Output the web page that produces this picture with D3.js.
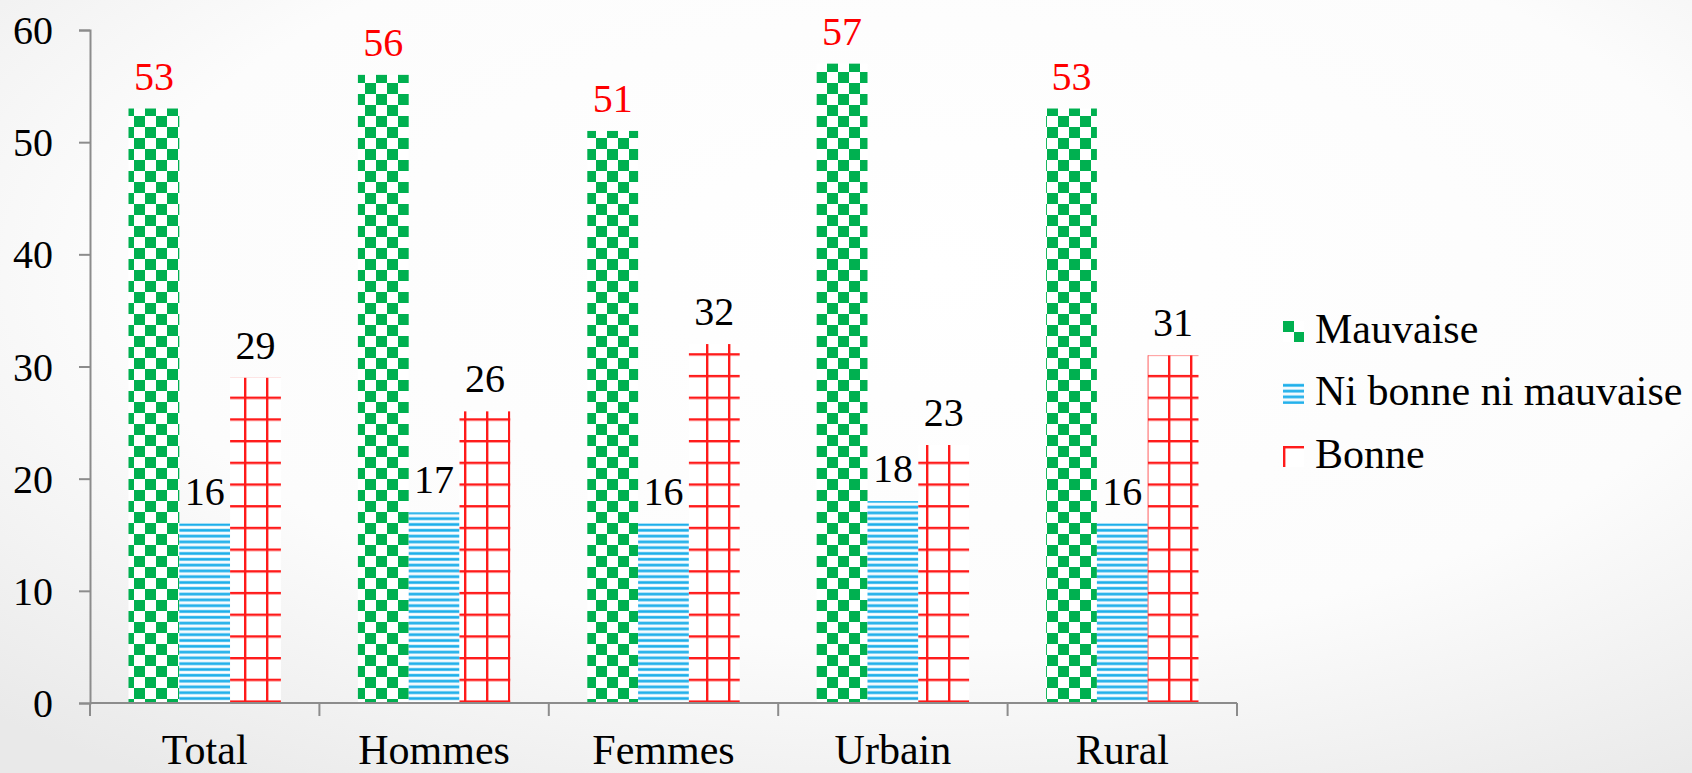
<!DOCTYPE html>
<html><head><meta charset="utf-8">
<script src="https://cdn.jsdelivr.net/npm/d3@7/dist/d3.min.js"></script>
<style>html,body{margin:0;padding:0;overflow:hidden;background:#fff}</style>
</head><body>
<script>
const categories = ["Total", "Hommes", "Femmes", "Urbain", "Rural"];
const seriesNames = ["Mauvaise", "Ni bonne ni mauvaise", "Bonne"];
const mauvaise = [53, 56, 51, 57, 53];
const niBonne = [16, 17, 16, 18, 16];
const bonne = [29, 26, 32, 23, 31];
const yTicks = [0, 10, 20, 30, 40, 50, 60];

const FONT = '"Liberation Serif", monospace';
const W = 1692, H = 773;
const svg = d3.select("body").append("svg").attr("width", W).attr("height", H);
const defs = svg.append("defs");

const bg = defs.append("radialGradient").attr("id", "bg").attr("cx", "55%").attr("cy", "35%").attr("r", "80%");
bg.append("stop").attr("offset", "0%").attr("stop-color", "#ffffff");
bg.append("stop").attr("offset", "60%").attr("stop-color", "#fcfcfc");
bg.append("stop").attr("offset", "100%").attr("stop-color", "#e9e9e9");
svg.append("rect").attr("width", W).attr("height", H).attr("fill", "url(#bg)");

function makePatterns(suffix, tx, ty) {
  const g = defs.append("pattern").attr("id", "pGreen" + suffix).attr("patternUnits", "userSpaceOnUse")
    .attr("width", 22).attr("height", 22).attr("patternTransform", `translate(${tx},${ty})`);
  g.append("rect").attr("width", 22).attr("height", 22).attr("fill", "#fff");
  g.append("rect").attr("x", 0).attr("y", 0).attr("width", 11).attr("height", 11).attr("fill", "#00B050");
  g.append("rect").attr("x", 11).attr("y", 11).attr("width", 11).attr("height", 11).attr("fill", "#00B050");

  const b = defs.append("pattern").attr("id", "pBlue" + suffix).attr("patternUnits", "userSpaceOnUse")
    .attr("width", 6).attr("height", 5.8).attr("patternTransform", `translate(${tx},${ty})`);
  b.append("rect").attr("width", 6).attr("height", 5.8).attr("fill", "#ffffff");
  b.append("rect").attr("y", 0.6).attr("width", 6).attr("height", 3.4).attr("fill", "#8fd6f5");
  b.append("rect").attr("y", 1.2).attr("width", 6).attr("height", 2.2).attr("fill", "#1aaeea");

  const r = defs.append("pattern").attr("id", "pRed" + suffix).attr("patternUnits", "userSpaceOnUse")
    .attr("width", 22).attr("height", 21.7).attr("patternTransform", `translate(${tx},${ty})`);
  r.append("rect").attr("width", 22).attr("height", 21.7).attr("fill", "#fff");
  r.append("rect").attr("x", 0).attr("y", 0).attr("width", 2.4).attr("height", 21.7).attr("fill", "#ff1a1a");
  r.append("rect").attr("x", 0).attr("y", 0).attr("width", 22).attr("height", 2.4).attr("fill", "#ff1a1a");
}
makePatterns("", 2, 6);
makePatterns("L1", 1283, 321);
makePatterns("L2", 1283, 383);
makePatterns("L3", 1283, 446);

const fills = ["url(#pGreen)", "url(#pBlue)", "url(#pRed)"];
const labelColors = ["#ff0000", "#000000", "#000000"];
const seriesData = [mauvaise, niBonne, bonne];

const x0 = d3.scaleBand().domain(categories).range([90, 1237]).paddingInner(0).paddingOuter(0);
const x1 = d3.scaleBand().domain(d3.range(3)).range([38.5, x0.bandwidth() - 38.5]).padding(0);
const y = d3.scaleLinear().domain([0, 60]).range([703, 30]);

// bars
categories.forEach((c, i) => {
  seriesData.forEach((s, j) => {
    const v = s[i];
    const bx = x0(c) + x1(j);
    svg.append("rect").attr("x", bx).attr("y", y(v)).attr("width", x1.bandwidth())
      .attr("height", y(0) - y(v)).attr("fill", fills[j]);
    svg.append("text").attr("x", bx + x1.bandwidth() / 2).attr("y", y(v) - 19)
      .attr("text-anchor", "middle").attr("font-size", 40)
      .style("font-family", FONT)
      .attr("fill", labelColors[j]).text(v);
  });
});

// y axis
const yAxis = svg.append("g").attr("transform", "translate(90,0)")
  .call(d3.axisLeft(y).tickValues(yTicks).tickSize(11).tickPadding(26).tickFormat(d3.format("d")));
yAxis.select(".domain").attr("stroke", "#8c8c8c").attr("stroke-width", 2);
yAxis.selectAll(".tick line").attr("stroke", "#8c8c8c").attr("stroke-width", 2);
yAxis.selectAll(".tick text").attr("font-size", 40).attr("fill", "#000").attr("dy", "0.34em")
  .style("font-family", FONT);

// x axis
const xAxis = svg.append("g").attr("transform", "translate(0,703)")
  .call(d3.axisBottom(x0).tickSize(0).tickPadding(0));
xAxis.select(".domain").attr("stroke", "#8c8c8c").attr("stroke-width", 2).attr("d", "M90,0H1237");
xAxis.selectAll(".tick text").attr("font-size", 42).attr("fill", "#000")
  .attr("dy", 0).attr("y", 61).style("font-family", FONT);
const bounds = categories.map(c => x0(c)).concat([x0(categories[categories.length - 1]) + x0.bandwidth()]);
xAxis.selectAll("line.sep").data(bounds).enter().append("line").attr("class", "sep")
  .attr("x1", d => d).attr("x2", d => d).attr("y1", 0).attr("y2", 13)
  .attr("stroke", "#8c8c8c").attr("stroke-width", 2);

// legend
const legendTops = [321, 383, 446];
const legendFills = ["url(#pGreenL1)", "url(#pBlueL2)", "url(#pRedL3)"];
seriesNames.forEach((n, j) => {
  svg.append("rect").attr("x", 1283).attr("y", legendTops[j]).attr("width", 21).attr("height", 21)
    .attr("fill", legendFills[j]);
  svg.append("text").attr("x", 1315).attr("y", legendTops[j] + 22)
    .attr("font-size", 42).attr("fill", "#000").style("font-family", FONT).text(n);
});
</script>
</body></html>
